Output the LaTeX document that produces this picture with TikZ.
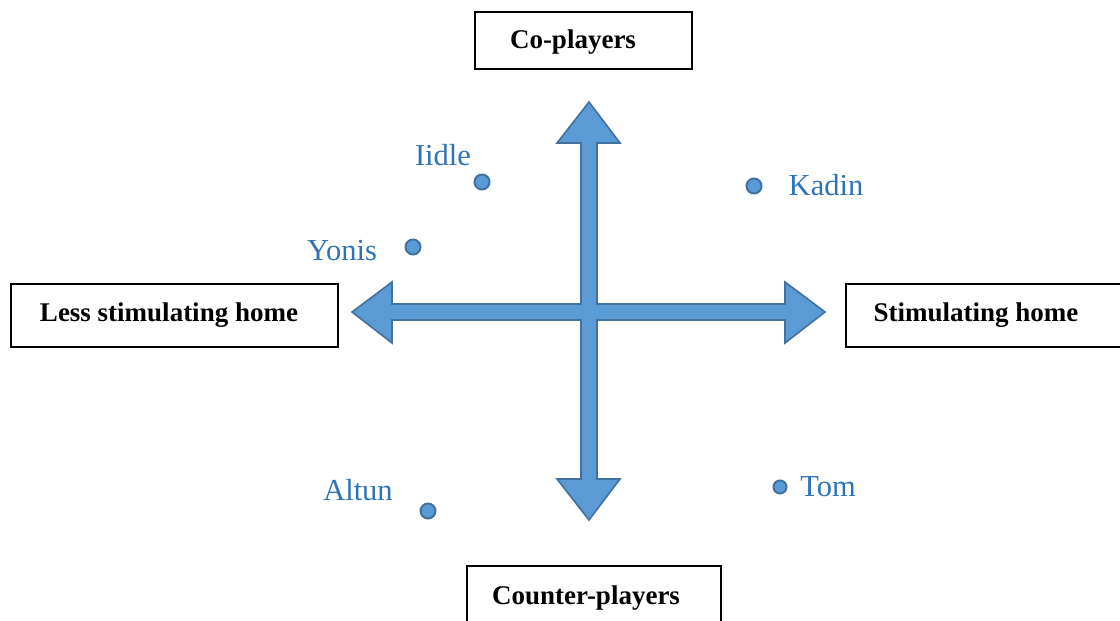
\documentclass[tikz,border=0pt]{standalone}
\usepackage{fontspec}
\setmainfont{Liberation Serif}
\definecolor{arrowfill}{HTML}{5B9BD5}
\definecolor{arrowline}{HTML}{41719C}
\definecolor{labelblue}{HTML}{2E74B5}
\tikzset{
  axisbox/.style={draw=black, line width=1.6pt, fill=white, inner sep=0pt},
  boxtext/.style={font=\fontsize{27}{31}\selectfont\bfseries, inner sep=0pt},
  pt/.style={circle, draw=arrowline, fill=arrowfill, line width=2pt, minimum size=15pt, inner sep=0pt},
  lbl/.style={text=labelblue, font=\fontsize{30.5}{34}\selectfont, inner sep=0pt},
}
\begin{document}
\begin{tikzpicture}[x=1pt,y=-1pt]
\useasboundingbox (0,0) rectangle (1120,621);
% boxes
\node[axisbox, minimum width=217pt, minimum height=57pt] (co) at (583.5,40.5) {};
\node[boxtext] (cot) at (573,42) {Co-players};
\node[axisbox, minimum width=327pt, minimum height=63pt] (less) at (174.5,315.5) {};
\node[boxtext] (lesst) at (169,315) {Less stimulating home};
\node[axisbox, minimum width=280pt, minimum height=63pt] (stim) at (986,315.5) {};
\node[boxtext] (stimt) at (976,315) {Stimulating home};
\node[axisbox, minimum width=254pt, minimum height=70pt] (counter) at (594,601) {};
\node[boxtext] (countert) at (586,598) {Counter-players};
% cross of arrows
\draw[fill=arrowfill, draw=arrowline, line width=1.6pt, line join=miter]
  (589,102) -- (620,143) -- (597,143) -- (597,304) -- (785,304) -- (785,282)
  -- (825,312) -- (785,343) -- (785,320) -- (597,320) -- (597,479) -- (620,479)
  -- (589,520) -- (557,479) -- (581,479) -- (581,320) -- (392,320) -- (392,343)
  -- (352,312) -- (392,282) -- (392,304) -- (581,304) -- (581,143) -- (557,143) -- cycle;
% points
\node[pt] (iidle) at (482,182) {};
\node[lbl] (iidlel) at (443,155) {Iidle};
\node[pt] (yonis) at (413,247) {};
\node[lbl] (yonisl) at (342,251) {Yonis};
\node[pt] (kadin) at (754,186) {};
\node[lbl] (kadinl) at (826,185) {Kadin};
\node[pt] (altun) at (428,511) {};
\node[lbl] (altunl) at (358,490) {Altun};
\node[pt, minimum size=13pt] (tom) at (780,487) {};
\node[lbl] (toml) at (828,487) {Tom};
\end{tikzpicture}
\end{document}
